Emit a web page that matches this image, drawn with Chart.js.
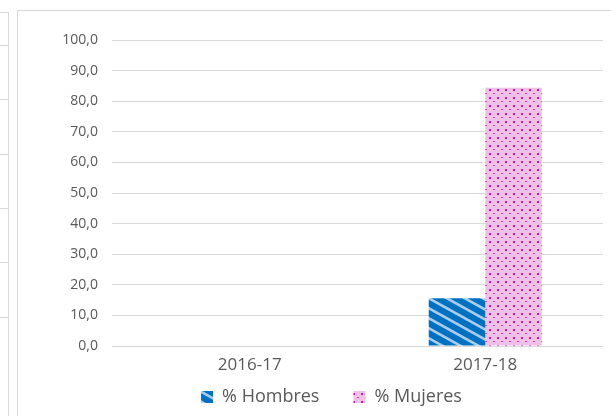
<!DOCTYPE html>
<html lang="es">
  <head>
    <meta charset="UTF-8" />
    <title>% Hombres / % Mujeres</title>
    <script src="https://cdn.jsdelivr.net/npm/chart.js@4"></script>
    <style>
      html, body { margin: 0; padding: 0; background: #fff; }
      #wrap { position: relative; width: 611px; height: 416px; overflow: hidden; }
      /* marcos de los graficos (el de la izquierda queda cortado) */
      .frame { position: absolute; border: 1px solid #d9d9d9; }
      #frameLeft { left: -20px; top: 12px; width: 27px; height: 420px; }
      #frameMain { left: 17px; top: 10px; width: 640px; height: 420px; }
      .gl { position: absolute; left: 0; width: 8px; height: 1px; background: #d9d9d9; }
      canvas { position: absolute; left: 0; top: 0; }
    </style>
  </head>
  <body>
    <div id="wrap">
      <div class="frame" id="frameLeft"></div>
      <div class="gl" style="top:45px"></div>
      <div class="gl" style="top:99px"></div>
      <div class="gl" style="top:154px"></div>
      <div class="gl" style="top:208px"></div>
      <div class="gl" style="top:262px"></div>
      <div class="gl" style="top:317px"></div>
      <div class="frame" id="frameMain"></div>
      <canvas id="chart" width="611" height="416"></canvas>
    </div>

    <script>
      // Datos
      const categorias = ['2016-17', '2017-18'];
      const hombres = [0, 15.6];
      const mujeres = [0, 84.4];
      const ejeY = { min: 0, max: 100, paso: 10 };

      // Trama de rayas diagonales (Hombres)
      function tramaRayas() {
        const c = document.createElement('canvas');
        c.width = 18; c.height = 10;
        const g = c.getContext('2d');
        g.fillStyle = '#0070c0';
        g.fillRect(0, 0, 18, 10);
        g.strokeStyle = '#a9cdee';
        g.lineWidth = 2.6;
        for (let k = -1; k <= 1; k++) {
          g.beginPath();
          g.moveTo(-18, -10 + k * 10);
          g.lineTo(36, 20 + k * 10);
          g.stroke();
        }
        return g.createPattern(c, 'repeat');
      }

      // Trama de puntos (Mujeres)
      function tramaPuntos() {
        const c = document.createElement('canvas');
        c.width = 8; c.height = 8;
        const g = c.getContext('2d');
        g.fillStyle = '#efc1e7';
        g.fillRect(0, 0, 8, 8);
        g.fillStyle = '#cc16b0';
        g.fillRect(1, 1, 2, 2);
        g.fillStyle = '#d640bd';
        g.fillRect(5, 5, 2, 1);
        return g.createPattern(c, 'repeat');
      }

      const gris = '#d9d9d9';
      const texto = '#595959';

      var ctx = document.getElementById('chart').getContext('2d');
      var chart = new Chart(ctx, {
        type: 'bar',
        data: {
          labels: categorias,
          datasets: [
            {
              label: '% Hombres',
              data: hombres,
              backgroundColor: tramaRayas(),
              borderWidth: 0
            },
            {
              label: '% Mujeres',
              data: mujeres,
              backgroundColor: tramaPuntos(),
              borderWidth: 0
            }
          ]
        },
        options: {
          responsive: false,
          animation: false,
          layout: { padding: { left: 60, top: 40, right: 8, bottom: 0 } },
          datasets: {
            bar: { categoryPercentage: 0.48, barPercentage: 1 }
          },
          scales: {
            x: {
              grid: { display: false, drawTicks: false },
              border: { display: false },
              ticks: {
                color: texto,
                mirror: true,
                padding: -29,
                font: { family: 'Open Sans', size: 17 }
              },
              afterFit: function (s) { s.height = 8; }
            },
            y: {
              min: ejeY.min,
              max: ejeY.max,
              border: { display: false },
              grid: { color: gris, tickColor: gris, tickLength: 20, lineWidth: 1 },
              ticks: {
                stepSize: ejeY.paso,
                color: texto,
                padding: 14,
                font: { family: 'Open Sans', size: 14 },
                callback: function (v) { return v.toFixed(1).replace('.', ','); }
              },
              afterFit: function (s) { s.width = 72; }
            }
          },
          plugins: {
            tooltip: { enabled: false },
            legend: {
              position: 'bottom',
              maxHeight: 64,
              labels: {
                boxWidth: 12,
                boxHeight: 12,
                padding: 34,
                color: texto,
                font: { family: 'Open Sans', size: 18 }
              }
            }
          }
        }
      });
    </script>
  </body>
</html>
